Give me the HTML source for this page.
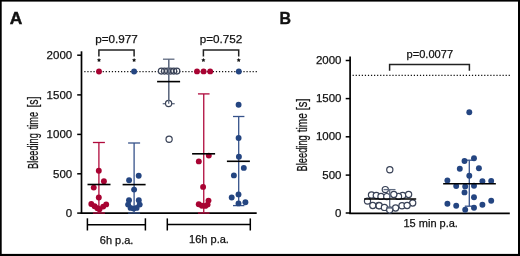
<!DOCTYPE html>
<html><head><meta charset="utf-8"><style>
html,body{margin:0;padding:0;background:#fff;}
svg{display:block;will-change:transform;}
text{font-family:"Liberation Sans", sans-serif;fill:#111;stroke:#111;stroke-width:0.25px;}
</style></head><body>
<svg width="520" height="256" viewBox="0 0 520 256">
<rect x="0" y="0" width="520" height="256" fill="#fff"/>
<rect x="0" y="0" width="520" height="1.6" fill="#000"/>
<rect x="0" y="0" width="1.7" height="256" fill="#000"/>
<rect x="518" y="0" width="2" height="256" fill="#000"/>
<rect x="0" y="253.9" width="520" height="2.1" fill="#000"/>
<text x="9.8" y="24.3" font-size="17.4" font-weight="bold" style="stroke-width:0.45px">A</text>
<text transform="translate(38.3,169.0) rotate(-90)" font-size="14" textLength="35.80" lengthAdjust="spacingAndGlyphs">Bleeding</text>
<text transform="translate(38.3,129.25) rotate(-90)" font-size="14" textLength="17.35" lengthAdjust="spacingAndGlyphs">time</text>
<text transform="translate(38.3,107.6) rotate(-90)" font-size="14" textLength="11.10" lengthAdjust="spacingAndGlyphs">[s]</text>
<line x1="81.5" y1="51.3" x2="81.5" y2="213.9" stroke="#000" stroke-width="1.7" />
<line x1="77.2" y1="55.2" x2="81.5" y2="55.2" stroke="#000" stroke-width="1.5" />
<text x="72.2" y="58.900000000000006" font-size="11.5" text-anchor="end" >2000</text>
<line x1="77.2" y1="94.9" x2="81.5" y2="94.9" stroke="#000" stroke-width="1.5" />
<text x="72.2" y="98.60000000000001" font-size="11.5" text-anchor="end" >1500</text>
<line x1="77.2" y1="134.4" x2="81.5" y2="134.4" stroke="#000" stroke-width="1.5" />
<text x="72.2" y="138.1" font-size="11.5" text-anchor="end" >1000</text>
<line x1="77.2" y1="173.8" x2="81.5" y2="173.8" stroke="#000" stroke-width="1.5" />
<text x="72.2" y="177.5" font-size="11.5" text-anchor="end" >500</text>
<line x1="77.2" y1="213.1" x2="81.5" y2="213.1" stroke="#000" stroke-width="1.5" />
<text x="72.2" y="216.79999999999998" font-size="11.5" text-anchor="end" >0</text>
<line x1="80.65" y1="213.05" x2="256.7" y2="213.05" stroke="#000" stroke-width="1.75" />
<line x1="84.3" y1="71.5" x2="257.2" y2="71.5" stroke="#111" stroke-width="1.25" stroke-dasharray="1.2 1.86"/>
<path d="M98.9 56.4 V50 H134.1 V56.4" fill="none" stroke="#222" stroke-width="1.5"/>
<text x="116.5" y="42.8" font-size="11.7" text-anchor="middle" >p=0.977</text>
<path d="M203.4 56.4 V50 H238.7 V56.4" fill="none" stroke="#222" stroke-width="1.5"/>
<text x="221.05" y="42.8" font-size="11.7" text-anchor="middle" >p=0.752</text>
<polygon points="99.00,57.90 99.65,59.21 101.09,59.42 100.05,60.44 100.29,61.88 99.00,61.20 97.71,61.88 97.95,60.44 96.91,59.42 98.35,59.21" fill="#111"/>
<polygon points="134.10,57.90 134.75,59.21 136.19,59.42 135.15,60.44 135.39,61.88 134.10,61.20 132.81,61.88 133.05,60.44 132.01,59.42 133.45,59.21" fill="#111"/>
<polygon points="203.40,57.90 204.05,59.21 205.49,59.42 204.45,60.44 204.69,61.88 203.40,61.20 202.11,61.88 202.35,60.44 201.31,59.42 202.75,59.21" fill="#111"/>
<polygon points="238.70,57.90 239.35,59.21 240.79,59.42 239.75,60.44 239.99,61.88 238.70,61.20 237.41,61.88 237.65,60.44 236.61,59.42 238.05,59.21" fill="#111"/>
<line x1="87.4" y1="224.7" x2="145.4" y2="224.7" stroke="#000" stroke-width="1.5" />
<line x1="87.4" y1="218.3" x2="87.4" y2="230.5" stroke="#000" stroke-width="1.5" />
<line x1="145.4" y1="218.3" x2="145.4" y2="230.5" stroke="#000" stroke-width="1.5" />
<text x="116.6" y="243.6" font-size="11" text-anchor="middle" >6h p.a.</text>
<line x1="167.3" y1="224.5" x2="250.3" y2="224.5" stroke="#000" stroke-width="1.5" />
<line x1="167.3" y1="218.4" x2="167.3" y2="230.5" stroke="#000" stroke-width="1.5" />
<line x1="250.3" y1="218.4" x2="250.3" y2="230.5" stroke="#000" stroke-width="1.5" />
<text x="209.0" y="242.9" font-size="11" text-anchor="middle" >16h p.a.</text>
<line x1="98.9" y1="142.5" x2="98.9" y2="213" stroke="#B00A3C" stroke-width="1.3" />
<line x1="92.9" y1="142.5" x2="104.9" y2="142.5" stroke="#B00A3C" stroke-width="1.3" />
<line x1="92.9" y1="213" x2="104.9" y2="213" stroke="#B00A3C" stroke-width="1.3" />
<circle cx="99" cy="71.5" r="2.95" fill="#A80332"/>
<circle cx="98.8" cy="170.7" r="2.95" fill="#A80332"/>
<circle cx="103.9" cy="181.2" r="2.95" fill="#A80332"/>
<circle cx="93.75" cy="187.6" r="2.95" fill="#A80332"/>
<circle cx="98.8" cy="197.5" r="2.95" fill="#A80332"/>
<circle cx="91.3" cy="204" r="2.95" fill="#A80332"/>
<circle cx="94.6" cy="206.2" r="2.95" fill="#A80332"/>
<circle cx="97.4" cy="208.2" r="2.95" fill="#A80332"/>
<circle cx="99.5" cy="209.3" r="2.95" fill="#A80332"/>
<circle cx="103.2" cy="206.6" r="2.95" fill="#A80332"/>
<circle cx="106.2" cy="204.4" r="2.95" fill="#A80332"/>
<line x1="87.5" y1="184.5" x2="110.5" y2="184.5" stroke="#000" stroke-width="1.6" />
<line x1="134.1" y1="143" x2="134.1" y2="213" stroke="#36528A" stroke-width="1.3" />
<line x1="128.1" y1="143" x2="140.1" y2="143" stroke="#36528A" stroke-width="1.3" />
<line x1="128.1" y1="213" x2="140.1" y2="213" stroke="#36528A" stroke-width="1.3" />
<circle cx="134.1" cy="71.5" r="2.95" fill="#244581"/>
<circle cx="138.7" cy="175.8" r="2.95" fill="#244581"/>
<circle cx="129.1" cy="180.3" r="2.95" fill="#244581"/>
<circle cx="134.1" cy="189.6" r="2.95" fill="#244581"/>
<circle cx="129" cy="200.3" r="2.95" fill="#244581"/>
<circle cx="138.8" cy="200.3" r="2.95" fill="#244581"/>
<circle cx="128.1" cy="204.6" r="2.95" fill="#244581"/>
<circle cx="139.7" cy="204.6" r="2.95" fill="#244581"/>
<circle cx="130.6" cy="207.9" r="2.95" fill="#244581"/>
<circle cx="136.6" cy="207.9" r="2.95" fill="#244581"/>
<circle cx="133.6" cy="208.6" r="2.95" fill="#244581"/>
<line x1="122.6" y1="184.6" x2="145.6" y2="184.6" stroke="#000" stroke-width="1.6" />
<line x1="168.7" y1="59.2" x2="168.7" y2="103.7" stroke="#5F6A80" stroke-width="1.3" />
<line x1="162.95" y1="59.2" x2="174.45" y2="59.2" stroke="#5F6A80" stroke-width="1.3" />
<line x1="162.7" y1="103.7" x2="174.7" y2="103.7" stroke="#5F6A80" stroke-width="1.3" />
<circle cx="161.3" cy="71.1" r="2.95" fill="none" stroke="#394257" stroke-width="1.2"/>
<circle cx="164.42000000000002" cy="71.1" r="2.95" fill="none" stroke="#394257" stroke-width="1.2"/>
<circle cx="167.54000000000002" cy="71.1" r="2.95" fill="none" stroke="#394257" stroke-width="1.2"/>
<circle cx="170.66000000000003" cy="71.1" r="2.95" fill="none" stroke="#394257" stroke-width="1.2"/>
<circle cx="173.78" cy="71.1" r="2.95" fill="none" stroke="#394257" stroke-width="1.2"/>
<circle cx="176.9" cy="71.1" r="2.95" fill="none" stroke="#394257" stroke-width="1.2"/>
<circle cx="168.6" cy="103.5" r="3.1" fill="#fff" stroke="#394257" stroke-width="1.2"/>
<circle cx="169.1" cy="139.3" r="3.1" fill="#fff" stroke="#394257" stroke-width="1.2"/>
<line x1="168.7" y1="59.2" x2="168.7" y2="103.7" stroke="#5F6A80" stroke-width="1.3" />
<line x1="157.1" y1="81.6" x2="180.1" y2="81.6" stroke="#000" stroke-width="1.6" />
<line x1="203.75" y1="93.9" x2="203.75" y2="213" stroke="#B00A3C" stroke-width="1.3" />
<line x1="197.95" y1="93.9" x2="209.55" y2="93.9" stroke="#B00A3C" stroke-width="1.3" />
<line x1="197.95" y1="213" x2="209.55" y2="213" stroke="#B00A3C" stroke-width="1.3" />
<circle cx="197" cy="71.4" r="2.95" fill="#A80332"/>
<circle cx="203.6" cy="71.4" r="2.95" fill="#A80332"/>
<circle cx="210.2" cy="71.4" r="2.95" fill="#A80332"/>
<circle cx="208.8" cy="155.6" r="2.95" fill="#A80332"/>
<circle cx="198.8" cy="161.4" r="2.95" fill="#A80332"/>
<circle cx="203.1" cy="186.9" r="2.95" fill="#A80332"/>
<circle cx="208.5" cy="200.6" r="2.95" fill="#A80332"/>
<circle cx="198.75" cy="204.2" r="2.95" fill="#A80332"/>
<circle cx="201.9" cy="205.8" r="2.95" fill="#A80332"/>
<circle cx="205.3" cy="205.9" r="2.95" fill="#A80332"/>
<circle cx="207.6" cy="204.6" r="2.95" fill="#A80332"/>
<line x1="192.1" y1="153.8" x2="215.1" y2="153.8" stroke="#000" stroke-width="1.6" />
<line x1="238.7" y1="116.5" x2="238.7" y2="205.6" stroke="#36528A" stroke-width="1.3" />
<line x1="233.0" y1="116.5" x2="244.39999999999998" y2="116.5" stroke="#36528A" stroke-width="1.3" />
<line x1="233.0" y1="205.6" x2="244.39999999999998" y2="205.6" stroke="#36528A" stroke-width="1.3" />
<circle cx="238.8" cy="71.5" r="2.95" fill="#244581"/>
<circle cx="238.6" cy="104.7" r="2.95" fill="#244581"/>
<circle cx="238.6" cy="138" r="2.95" fill="#244581"/>
<circle cx="238.9" cy="156.8" r="2.95" fill="#244581"/>
<circle cx="243.8" cy="167.9" r="2.95" fill="#244581"/>
<circle cx="233.9" cy="175.4" r="2.95" fill="#244581"/>
<circle cx="238.5" cy="194.4" r="2.95" fill="#244581"/>
<circle cx="231.7" cy="197.5" r="2.95" fill="#244581"/>
<circle cx="238.5" cy="203.4" r="2.95" fill="#244581"/>
<circle cx="245.4" cy="202.3" r="2.95" fill="#244581"/>
<line x1="226.9" y1="161.3" x2="249.9" y2="161.3" stroke="#000" stroke-width="1.6" />
<text x="279.6" y="24.2" font-size="17" font-weight="bold" textLength="11.5" lengthAdjust="spacingAndGlyphs" style="stroke-width:0.4px">B</text>
<text transform="translate(306.7,171.5) rotate(-90)" font-size="14" textLength="36.30" lengthAdjust="spacingAndGlyphs">Bleeding</text>
<text transform="translate(306.7,132.2) rotate(-90)" font-size="14" textLength="18.95" lengthAdjust="spacingAndGlyphs">time</text>
<text transform="translate(306.7,110.3) rotate(-90)" font-size="14" textLength="11.90" lengthAdjust="spacingAndGlyphs">[s]</text>
<line x1="350.1" y1="56.4" x2="350.1" y2="213.9" stroke="#000" stroke-width="1.7" />
<line x1="345.7" y1="60.5" x2="350.1" y2="60.5" stroke="#000" stroke-width="1.5" />
<text x="341.5" y="64.1" font-size="11.5" text-anchor="end" >2000</text>
<line x1="345.7" y1="98.6" x2="350.1" y2="98.6" stroke="#000" stroke-width="1.5" />
<text x="341.5" y="102.19999999999999" font-size="11.5" text-anchor="end" >1500</text>
<line x1="345.7" y1="136.8" x2="350.1" y2="136.8" stroke="#000" stroke-width="1.5" />
<text x="341.5" y="140.4" font-size="11.5" text-anchor="end" >1000</text>
<line x1="345.7" y1="175.1" x2="350.1" y2="175.1" stroke="#000" stroke-width="1.5" />
<text x="341.5" y="178.7" font-size="11.5" text-anchor="end" >500</text>
<line x1="345.7" y1="213.0" x2="350.1" y2="213.0" stroke="#000" stroke-width="1.5" />
<text x="341.5" y="216.6" font-size="11.5" text-anchor="end" >0</text>
<line x1="349.25" y1="213.3" x2="509.8" y2="213.3" stroke="#000" stroke-width="1.8" />
<line x1="352.6" y1="75.4" x2="511.4" y2="75.4" stroke="#111" stroke-width="1.25" stroke-dasharray="1.2 1.86"/>
<path d="M389.6 70.8 V64.4 H469.4 V70.8" fill="none" stroke="#222" stroke-width="1.5"/>
<text x="429.8" y="58.3" font-size="11.1" text-anchor="middle" >p=0.0077</text>
<text x="430.7" y="227.3" font-size="11" text-anchor="middle" >15 min p.a.</text>
<circle cx="389.8" cy="169.8" r="3.1" fill="#fff" stroke="#394257" stroke-width="1.2"/>
<circle cx="371.5" cy="194.9" r="3.1" fill="#fff" stroke="#394257" stroke-width="1.2"/>
<circle cx="376.3" cy="195.5" r="3.1" fill="#fff" stroke="#394257" stroke-width="1.2"/>
<circle cx="381" cy="196.4" r="3.1" fill="#fff" stroke="#394257" stroke-width="1.2"/>
<circle cx="386.8" cy="196.6" r="3.1" fill="#fff" stroke="#394257" stroke-width="1.2"/>
<circle cx="402.7" cy="195.5" r="3.1" fill="#fff" stroke="#394257" stroke-width="1.2"/>
<circle cx="408.6" cy="194.5" r="3.1" fill="#fff" stroke="#394257" stroke-width="1.2"/>
<circle cx="367.5" cy="201.1" r="3.1" fill="#fff" stroke="#394257" stroke-width="1.2"/>
<circle cx="412.7" cy="203" r="3.1" fill="#fff" stroke="#394257" stroke-width="1.2"/>
<circle cx="372.8" cy="205.5" r="3.1" fill="#fff" stroke="#394257" stroke-width="1.2"/>
<circle cx="378.8" cy="205.5" r="3.1" fill="#fff" stroke="#394257" stroke-width="1.2"/>
<circle cx="379.2" cy="205.7" r="3.1" fill="#fff" stroke="#394257" stroke-width="1.2"/>
<circle cx="402" cy="205.7" r="3.1" fill="#fff" stroke="#394257" stroke-width="1.2"/>
<circle cx="407.1" cy="205.5" r="3.1" fill="#fff" stroke="#394257" stroke-width="1.2"/>
<circle cx="395.6" cy="208" r="3.1" fill="#fff" stroke="#394257" stroke-width="1.2"/>
<circle cx="384.4" cy="207.4" r="3.1" fill="#fff" stroke="#394257" stroke-width="1.2"/>
<circle cx="389.7" cy="210" r="3.1" fill="#fff" stroke="#394257" stroke-width="1.2"/>
<circle cx="398.5" cy="196.4" r="3.1" fill="#fff" stroke="#394257" stroke-width="1.2"/>
<circle cx="393.8" cy="194.5" r="3.1" fill="#fff" stroke="#394257" stroke-width="1.2"/>
<circle cx="385.3" cy="189.6" r="3.1" fill="#fff" stroke="#394257" stroke-width="1.2"/>
<line x1="389.7" y1="189.6" x2="389.7" y2="208" stroke="#5F6A80" stroke-width="1.3" />
<line x1="383.5" y1="189.6" x2="395.5" y2="189.6" stroke="#5F6A80" stroke-width="1.3" />
<line x1="386" y1="208" x2="393.4" y2="208" stroke="#5F6A80" stroke-width="1.3" />
<line x1="364.2" y1="199" x2="416.2" y2="199" stroke="#000" stroke-width="1.6" />
<line x1="469.3" y1="160.2" x2="469.3" y2="206.2" stroke="#36528A" stroke-width="1.3" />
<line x1="464.8" y1="160.2" x2="473.8" y2="160.2" stroke="#36528A" stroke-width="1.3" />
<line x1="464.8" y1="206.2" x2="473.8" y2="206.2" stroke="#36528A" stroke-width="1.3" />
<circle cx="469.3" cy="112.2" r="2.95" fill="#244581"/>
<circle cx="464.5" cy="161" r="2.95" fill="#244581"/>
<circle cx="474" cy="158.3" r="2.95" fill="#244581"/>
<circle cx="459.8" cy="168.8" r="2.95" fill="#244581"/>
<circle cx="478.9" cy="168.3" r="2.95" fill="#244581"/>
<circle cx="469.3" cy="175.7" r="2.95" fill="#244581"/>
<circle cx="447.4" cy="180.5" r="2.95" fill="#244581"/>
<circle cx="482.4" cy="181.3" r="2.95" fill="#244581"/>
<circle cx="491.2" cy="181" r="2.95" fill="#244581"/>
<circle cx="456.2" cy="186" r="2.95" fill="#244581"/>
<circle cx="465.2" cy="186.4" r="2.95" fill="#244581"/>
<circle cx="474" cy="185.8" r="2.95" fill="#244581"/>
<circle cx="464.5" cy="192.4" r="2.95" fill="#244581"/>
<circle cx="474" cy="197.2" r="2.95" fill="#244581"/>
<circle cx="447.4" cy="203.8" r="2.95" fill="#244581"/>
<circle cx="456.2" cy="205.7" r="2.95" fill="#244581"/>
<circle cx="465.2" cy="209.8" r="2.95" fill="#244581"/>
<circle cx="474" cy="207.8" r="2.95" fill="#244581"/>
<circle cx="482.4" cy="204.8" r="2.95" fill="#244581"/>
<circle cx="491.2" cy="200.8" r="2.95" fill="#244581"/>
<line x1="443.15" y1="183.8" x2="495.85" y2="183.8" stroke="#000" stroke-width="1.6" />
</svg>
</body></html>
